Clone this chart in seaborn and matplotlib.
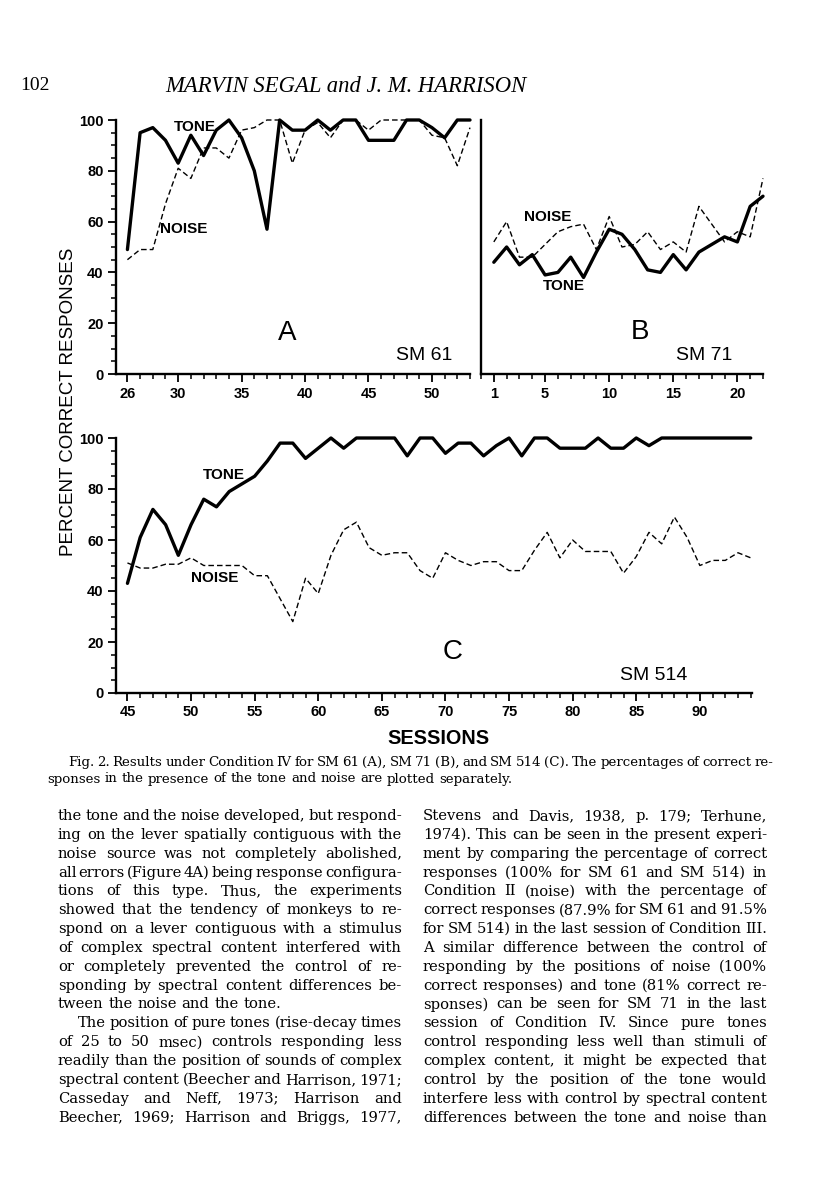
import matplotlib
matplotlib.use("Agg")
import matplotlib.pyplot as plt
from matplotlib.ticker import MultipleLocator, FixedLocator
import seaborn as sns

# Session numbers and percent correct
sessions_a = list(range(26, 54))
tone_a = [49, 95, 97, 92, 83, 94, 86, 96, 100, 93, 80, 57, 100, 96, 96, 100, 96, 100,
          100, 92, 92, 92, 100, 100, 97, 93, 100, 100]
noise_a = [45, 49, 49, 67, 81, 77, 89, 89, 85, 96, 97, 100, 100, 83, 96, 99, 93, 100,
           100, 96, 100, 100, 100, 100, 94, 93, 82, 97]

sessions_b = list(range(1, 23))
tone_b = [44, 50, 43, 47, 39, 40, 46, 38, 48, 57, 55, 49, 41, 40, 47, 41, 48, 51, 54, 52, 66, 70]
noise_b = [52, 60, 46, 46, 51, 56, 58, 59, 49, 62, 50, 51, 56, 49, 52, 48, 66, 59, 52, 56, 54, 77]

sessions_c = list(range(45, 95))
tone_c = [43, 61, 72, 66, 54, 66, 76, 73, 79, 82, 85, 91, 98, 98, 92, 96, 100, 96, 100, 100,
          100, 100, 93, 100, 100, 94, 98, 98, 93, 97, 100, 93, 100, 100, 96, 96, 96, 100, 96, 96,
          100, 97, 100, 100, 100, 100, 100, 100, 100, 100]
noise_c = [51, 49, 49, 50.5, 50.5, 53, 50, 50, 50, 50, 46, 46, 37, 28, 45, 39, 54, 64, 67, 57,
           54, 55, 55, 48, 45, 55, 52, 50, 51.5, 51.5, 48, 48, 56, 63, 53, 60, 55.5, 55.5, 55.5, 47,
           53.5, 63, 58.5, 69, 61, 50, 52, 52, 55, 53]

xticks_a = [26, 30, 35, 40, 45, 50]
xticks_b = [1, 5, 10, 15, 20]
xticks_c = [45, 50, 55, 60, 65, 70, 75, 80, 85, 90]
yticks = [0, 20, 40, 60, 80, 100]

caption = ["Fig. 2. Results under Condition IV for SM 61 (A), SM 71 (B), and SM 514 (C). The percentages of correct re-",
           "sponses in the presence of the tone and noise are plotted separately."]

left_col = [
    "the tone and the noise developed, but respond-",
    "ing on the lever spatially contiguous with the",
    "noise source was not completely abolished,",
    "all errors (Figure 4A) being response configura-",
    "tions of this type. Thus, the experiments",
    "showed that the tendency of monkeys to re-",
    "spond on a lever contiguous with a stimulus",
    "of complex spectral content interfered with",
    "or completely prevented the control of re-",
    "sponding by spectral content differences be-",
    "tween the noise and the tone.",
    "The position of pure tones (rise-decay times",
    "of 25 to 50 msec) controls responding less",
    "readily than the position of sounds of complex",
    "spectral content (Beecher and Harrison, 1971;",
    "Casseday and Neff, 1973; Harrison and",
    "Beecher, 1969; Harrison and Briggs, 1977,",
]
right_col = [
    "Stevens and Davis, 1938, p. 179; Terhune,",
    "1974). This can be seen in the present experi-",
    "ment by comparing the percentage of correct",
    "responses (100% for SM 61 and SM 514) in",
    "Condition II (noise) with the percentage of",
    "correct responses (87.9% for SM 61 and 91.5%",
    "for SM 514) in the last session of Condition III.",
    "A similar difference between the control of",
    "responding by the positions of noise (100%",
    "correct responses) and tone (81% correct re-",
    "sponses) can be seen for SM 71 in the last",
    "session of Condition IV. Since pure tones",
    "control responding less well than stimuli of",
    "complex content, it might be expected that",
    "control by the position of the tone would",
    "interfere less with control by spectral content",
    "differences between the tone and noise than",
]

sns.set_style("ticks")
plt.rcParams["font.family"] = ["Liberation Sans", "DejaVu Sans"]
plt.rcParams["text.color"] = "black"
plt.rcParams["xtick.color"] = "black"
plt.rcParams["ytick.color"] = "black"

W, H = 816, 1200
fig = plt.figure(figsize=(W / 100, H / 100), dpi=100)


def px_axes(l, t, r, b):
    return fig.add_axes([l / W, 1 - b / H, (r - l) / W, (b - t) / H])


def style_axis(ax, xticks, xlim, show_y=True):
    ax.set_xlim(*xlim)
    ax.set_ylim(0, 100)
    sns.despine(ax=ax)
    for s in ["left", "bottom"]:
        ax.spines[s].set_linewidth(1.7)
        ax.spines[s].set_color("black")
    ax.xaxis.set_major_locator(FixedLocator(xticks))
    ax.xaxis.set_minor_locator(MultipleLocator(1))
    ax.tick_params(axis="x", which="major", length=6, width=1.3, pad=3, labelsize=10.5, colors="black")
    ax.tick_params(axis="x", which="minor", length=3.5, width=1.1, colors="black")
    for lab in ax.get_xticklabels():
        lab.set_fontweight("bold")
    if show_y:
        ax.yaxis.set_major_locator(FixedLocator(yticks))
        ax.yaxis.set_minor_locator(MultipleLocator(5))
        ax.tick_params(axis="y", which="major", length=6, width=1.3, pad=3, labelsize=10.5, colors="black")
        ax.tick_params(axis="y", which="minor", length=3.5, width=1.1, colors="black")
        for lab in ax.get_yticklabels():
            lab.set_fontweight("bold")
    else:
        ax.set_yticks([])
    ax.set_xlabel("")
    ax.set_ylabel("")


def draw_series(ax, x, tone, noise):
    sns.lineplot(x=x, y=noise, ax=ax, color="black", linewidth=1.0, linestyle=(0, (4, 2.2)))
    sns.lineplot(x=x, y=tone, ax=ax, color="black", linewidth=2.4)
    for ln in ax.lines:
        ln.set_clip_on(False)


ax_a = px_axes(116, 120, 470, 374)
draw_series(ax_a, sessions_a, tone_a, noise_a)
style_axis(ax_a, xticks_a, (25.1, 53))

ax_b = px_axes(481, 120, 763, 374)
draw_series(ax_b, sessions_b, tone_b, noise_b)
style_axis(ax_b, xticks_b, (0.0, 22), show_y=False)

ax_c = px_axes(116, 438, 752, 693)
draw_series(ax_c, sessions_c, tone_c, noise_c)
style_axis(ax_c, xticks_c, (44.1, 94.1))


def ftext(x, y, s, **kw):
    fig.text(x / W, 1 - y / H, s, ha=kw.pop("ha", "center"), va=kw.pop("va", "center"), **kw)


# panel annotations
lab_kw = dict(fontsize=11, fontweight="bold")
ftext(195, 127, "TONE", **lab_kw)
ftext(184, 229, "NOISE", **lab_kw)
ftext(548, 217, "NOISE", **lab_kw)
ftext(564, 286, "TONE", **lab_kw)
ftext(224, 475, "TONE", **lab_kw)
ftext(215, 578, "NOISE", **lab_kw)
ftext(287, 333, "A", fontsize=20)
ftext(640, 332, "B", fontsize=20)
ftext(453, 652, "C", fontsize=20)
ftext(424, 356, "SM 61", fontsize=14)
ftext(704, 356, "SM 71", fontsize=14)
ftext(654, 675, "SM 514", fontsize=14)
ftext(69, 402, "PERCENT CORRECT RESPONSES", fontsize=13.5, rotation=90)
ftext(438, 738, "SESSIONS", fontsize=14.3, fontweight="bold")

# page header
serif = ["DejaVu Serif"]
ftext(20, 86, "102", ha="left", fontsize=14, family=["Liberation Serif"])
ftext(346, 86, "MARVIN SEGAL and J. M. HARRISON", fontsize=16.3, style="italic",
      family=["Liberation Serif"])

renderer = fig.canvas.get_renderer()


def draw_lines(lines, x0, x1, y0, dy, fontsize, family, justify, indents):
    for i, line in enumerate(lines):
        words = line.split()
        xs = x0 + indents.get(i, 0)
        objs, widths = [], []
        for w in words:
            t = fig.text(0, 0, w, fontsize=fontsize, family=family, ha="left", va="baseline")
            widths.append(t.get_window_extent(renderer).width)
            objs.append(t)
        sp = fig.text(0, 0, "a b", fontsize=fontsize, family=family)
        sp2 = fig.text(0, 0, "ab", fontsize=fontsize, family=family)
        space = sp.get_window_extent(renderer).width - sp2.get_window_extent(renderer).width
        sp.remove()
        sp2.remove()
        if justify[i] and len(words) > 1:
            gap = (x1 - xs - sum(widths)) / (len(words) - 1)
        else:
            gap = space
        x = xs
        y = y0 + i * dy
        for t, wdt in zip(objs, widths):
            t.set_position((x / W, 1 - y / H))
            x += wdt + gap


cap_fs = 9.6
draw_lines(caption, 47, 773, 766, 16.5, cap_fs, serif, [True, False], {0: 21})

body_fs = 10.6
just_left = [True] * len(left_col)
just_left[10] = False
draw_lines(left_col, 58, 402, 820, 18.85, body_fs, serif, just_left, {11: 20})
draw_lines(right_col, 423, 767, 820, 18.85, body_fs, serif, [True] * len(right_col), {})

fig.savefig("out.png", dpi=100)
